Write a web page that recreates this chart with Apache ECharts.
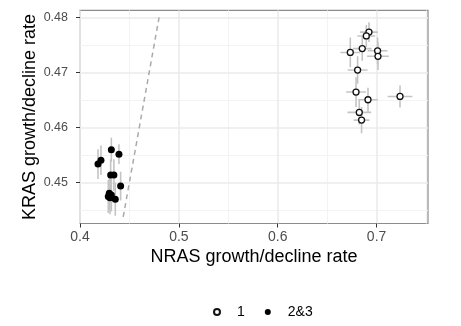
<!DOCTYPE html>
<html>
<head>
<meta charset="utf-8">
<script src="https://cdn.jsdelivr.net/npm/echarts@6/dist/echarts.min.js"></script>
<style>
  html, body { margin: 0; padding: 0; background: #fff; }
  #chart { width: 461px; height: 326px; }
</style>
</head>
<body>
<div id="chart"></div>
<script>
// group "1" (open circles)
const nras1 = [0.6923, 0.6896, 0.6855, 0.6734, 0.7010, 0.7014, 0.6808, 0.6792, 0.6913, 0.7237, 0.6825, 0.6848];
const kras1 = [0.4773, 0.4766, 0.4743, 0.4736, 0.4739, 0.4729, 0.4704, 0.4664, 0.4650, 0.4656, 0.4627, 0.4613];
const nras1Err = [0.0090, 0.0090, 0.0095, 0.0100, 0.0100, 0.0110, 0.0100, 0.0100, 0.0100, 0.0125, 0.0120, 0.0080];
const kras1Err = [0.0018, 0.0020, 0.0022, 0.0027, 0.0024, 0.0025, 0.0025, 0.0027, 0.0022, 0.0020, 0.0022, 0.0024];

// group "2&3" (filled circles)
const nras23 = [0.4182, 0.4212, 0.4317, 0.4394, 0.4310, 0.4343, 0.4411, 0.4296, 0.4317, 0.4286, 0.4303, 0.4357];
const kras23 = [0.4533, 0.4540, 0.4559, 0.4551, 0.4513, 0.4513, 0.4493, 0.4480, 0.4477, 0.4474, 0.4472, 0.4469];
const nras23Err = [0.0015, 0.0015, 0.0015, 0.0015, 0.0015, 0.0015, 0.0015, 0.0015, 0.0015, 0.0015, 0.0015, 0.0015];
const kras23Err = [0.0027, 0.0027, 0.0022, 0.0018, 0.0029, 0.0029, 0.0026, 0.0030, 0.0030, 0.0030, 0.0030, 0.0030];

// identity line y = x
const diagonal = [0.4437, 0.48];

const xTicks = [0.4, 0.5, 0.6, 0.7];
const xMinor = [0.45, 0.55, 0.65, 0.75];
const yTicks = [0.45, 0.46, 0.47, 0.48];
const yMinor = [0.445, 0.455, 0.465, 0.475];
const groups = ["1", "2&3"];

const font = "'Liberation Sans', Arial, sans-serif";
const xRange = { min: 0.4, max: 0.752 };
const yRange = { min: 0.4425, max: 0.48125 };

const zip = (a, b, c, d) => a.map((v, i) => [v, b[i], c[i], d[i]]);
const errData = zip(nras1, kras1, nras1Err, kras1Err).concat(zip(nras23, kras23, nras23Err, kras23Err));

function renderErr(params, api) {
  const x = api.value(0), y = api.value(1), ex = api.value(2), ey = api.value(3);
  const l = api.coord([x - ex, y]), r = api.coord([x + ex, y]);
  const t = api.coord([x, y + ey]), b = api.coord([x, y - ey]);
  const style = { stroke: "#c4c4c4", lineWidth: 1.6 };
  return {
    type: "group",
    children: [
      { type: "line", shape: { x1: l[0], y1: l[1], x2: r[0], y2: r[1] }, style: style },
      { type: "line", shape: { x1: t[0], y1: t[1], x2: b[0], y2: b[1] }, style: style }
    ]
  };
}

// hidden axis that only draws the minor grid
function minorAxis(range, vals) {
  return Object.assign({
    type: "value", z: 0,
    axisLine: { show: false },
    axisTick: { show: false, customValues: vals },
    axisLabel: { show: false, customValues: vals },
    splitLine: { show: true, lineStyle: { color: "#f3f3f3", width: 1 } }
  }, range);
}

const chart = echarts.init(document.getElementById("chart"));
chart.setOption({
  animation: false,
  textStyle: { fontFamily: font },
  grid: {
    left: 80, top: 10.4, width: 348, height: 213.1,
    show: true, borderColor: "#8c8c8c", borderWidth: 1.2, backgroundColor: "#fff"
  },
  xAxis: [
    Object.assign({
      type: "value", z: 1,
      name: "NRAS growth/decline rate", nameLocation: "middle", nameGap: 25,
      nameMoveOverlap: false,
      nameTextStyle: { fontSize: 18, color: "#000", fontFamily: font },
      axisLine: { show: false },
      axisTick: { show: true, length: 4, customValues: xTicks, lineStyle: { color: "#333" } },
      axisLabel: { customValues: xTicks, fontSize: 14, color: "#4d4d4d", margin: 7,
        formatter: v => v.toFixed(1) },
      splitLine: { show: true, lineStyle: { color: "#ebebeb", width: 1.6 } }
    }, xRange),
    minorAxis(xRange, xMinor)
  ],
  yAxis: [
    Object.assign({
      type: "value", z: 1,
      name: "KRAS growth/decline rate", nameLocation: "middle", nameGap: 41,
      nameMoveOverlap: false,
      nameTextStyle: { fontSize: 18, color: "#000", fontFamily: font },
      axisLine: { show: false },
      axisTick: { show: true, length: 4, customValues: yTicks, lineStyle: { color: "#333" } },
      axisLabel: { customValues: yTicks, fontSize: 12.5, color: "#4d4d4d", margin: 12,
        formatter: v => v.toFixed(2) },
      splitLine: { show: true, lineStyle: { color: "#ebebeb", width: 1.6 } }
    }, yRange),
    minorAxis(yRange, yMinor)
  ],
  legend: {
    data: groups, left: 208, top: 300, orient: "horizontal",
    itemWidth: 6, itemHeight: 6, itemGap: 20,
    textStyle: { fontSize: 14, color: "#000", padding: [0, 0, 0, 12], fontFamily: font }
  },
  series: [
    {
      type: "custom", name: "err", renderItem: renderErr, data: errData,
      encode: { x: 0, y: 1 }, clip: true, silent: true, z: 1
    },
    {
      type: "line", name: "y=x", data: diagonal.map(v => [v, v]), symbol: "none",
      lineStyle: { color: "#aaaaaa", width: 1.5, type: [5, 4] }, silent: true, z: 2
    },
    {
      type: "scatter", name: groups[0], data: nras1.map((v, i) => [v, kras1[i]]),
      symbol: "circle", symbolSize: 6,
      itemStyle: { color: "#fff", borderColor: "#111", borderWidth: 1.3, opacity: 1 }, z: 3
    },
    {
      type: "scatter", name: groups[1], data: nras23.map((v, i) => [v, kras23[i]]),
      symbol: "circle", symbolSize: 7,
      itemStyle: { color: "#000", opacity: 1 }, z: 3
    }
  ]
});
</script>
</body>
</html>
